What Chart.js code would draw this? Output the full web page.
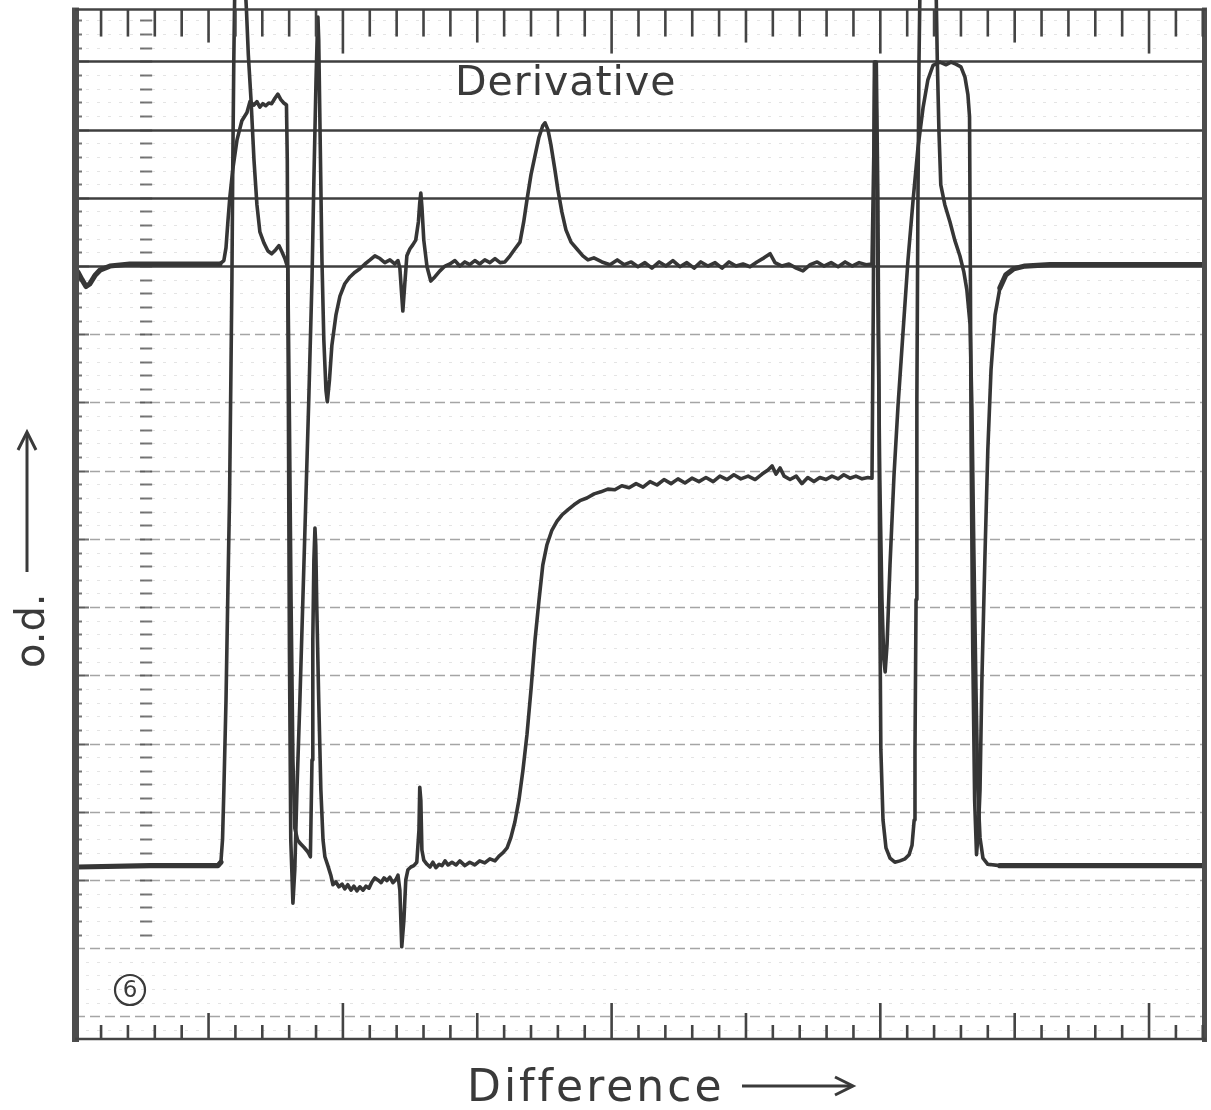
<!DOCTYPE html>
<html>
<head>
<meta charset="utf-8">
<title>Derivative / Difference</title>
<script src="https://cdn.jsdelivr.net/npm/chart.js@4.4.1/dist/chart.umd.min.js"></script>
<style>
  html, body { margin: 0; padding: 0; background: #fff; }
  #wrap { width: 1211px; height: 1110px; }
</style>
</head>
<body>
<div id="wrap"><canvas id="trace" width="1211" height="1110"></canvas></div>
<script>
// pen traces: x in chart divisions (small ticks), y in paper rows
const derivX = [
  0.14,0.29,0.44,0.58,0.77,0.96,1.33,2.07,5.42,5.57,5.65,5.72,5.79,5.90,6.06,6.24,6.43,6.54,6.69,6.80,
  6.91,7.02,7.13,7.24,7.35,7.47,7.58,7.69,7.80,7.90,7.93,7.97,8.01,8.06,8.14,8.21,8.29,8.40,8.51,8.62,
  8.73,8.85,8.92,9.00,9.05,9.07,9.10,9.16,9.22,9.29,9.37,9.42,9.50,9.59,9.74,9.89,10.07,10.26,10.45,10.63,
  10.82,11.01,11.19,11.38,11.56,11.75,11.93,12.05,12.12,12.18,12.23,12.30,12.38,12.49,12.60,12.71,12.81,12.86,12.90,12.94,
  13.01,13.13,13.27,13.42,13.61,13.80,13.98,14.17,14.35,14.54,14.72,14.91,15.09,15.28,15.47,15.66,15.85,16.03,16.22,16.40,
  16.59,16.73,16.85,17.00,17.14,17.29,17.44,17.52,17.63,17.74,17.89,18.00,18.15,18.30,18.49,18.71,18.93,19.12,19.34,
  19.64,19.94,20.21,20.47,20.73,20.98,21.24,21.50,21.77,22.02,22.28,22.54,22.80,23.07,23.32,23.58,23.85,24.11,24.37,24.63,
  24.89,25.15,25.41,25.67,25.90,26.08,26.34,26.60,26.87,27.12,27.39,27.65,27.90,28.17,28.43,28.69,28.95,29.21,29.47,29.69,
  29.76,29.80,29.85,29.91,29.98,30.06,30.13,30.18,30.25,30.36,30.51,30.66,30.85,31.03,31.22,31.40,31.59,31.77,31.96,32.22,
  32.45,32.63,32.81,33.00,33.15,33.26,33.32,33.35,33.38,33.44,33.51,33.58,33.65,33.71,33.78,33.89,34.00,34.12,34.27,34.45,
  34.67,34.97,35.38,36.31,42.12
];
const derivY = [
  8.91,8.80,8.70,8.74,8.86,8.94,9.00,9.03,9.03,9.08,9.27,9.65,10.00,10.41,10.85,11.13,11.25,11.41,11.36,11.41,
  11.33,11.38,11.35,11.39,11.38,11.46,11.52,11.44,11.39,11.36,10.56,7.04,3.37,0.59,-0.34,0.15,1.32,2.64,4.11,5.57,
  7.04,8.80,10.26,11.73,12.46,12.65,12.32,10.70,9.09,7.92,7.18,7.01,7.33,7.84,8.28,8.56,8.74,8.84,8.91,8.96,
  9.03,9.09,9.15,9.11,9.05,9.09,9.03,9.08,8.97,8.62,8.34,8.72,9.15,9.25,9.31,9.38,9.65,9.93,10.07,9.87,
  9.38,8.99,8.78,8.84,8.93,9.00,9.03,9.08,9.00,9.06,9.02,9.08,9.03,9.09,9.05,9.11,9.05,9.06,9.15,9.25,
  9.35,9.65,9.97,10.34,10.60,10.88,11.06,11.10,11.00,10.78,10.41,10.12,9.79,9.53,9.35,9.25,9.15,9.09,9.12,
  9.06,9.02,9.09,9.02,9.06,8.99,9.05,8.97,9.06,9.00,9.08,8.99,9.05,8.97,9.06,9.00,9.05,8.97,9.06,9.00,
  9.03,8.99,9.06,9.12,9.18,9.05,9.00,9.03,8.97,8.93,9.02,9.06,9.00,9.05,8.99,9.06,9.00,9.05,9.02,9.03,
  10.70,11.99,11.29,8.50,5.87,4.11,3.23,3.05,3.45,4.62,5.94,6.96,8.06,9.09,9.97,10.73,11.32,11.73,11.94,11.99,
  11.95,11.99,11.96,11.92,11.77,11.51,11.19,8.99,6.30,3.37,1.17,0.37,0.73,1.32,2.93,4.69,6.30,7.48,8.28,8.68,
  8.87,8.96,9.00,9.02,9.02
];
const diffX = [
  0.14,2.82,5.35,5.46,5.52,5.57,5.65,5.72,5.78,5.83,5.87,5.90,5.94,5.98,6.17,6.35,6.41,6.48,6.58,6.69,
  6.80,6.91,7.06,7.21,7.35,7.50,7.62,7.73,7.84,7.95,8.01,8.07,8.14,8.21,8.31,8.40,8.55,8.70,8.79,8.85,
  8.88,8.92,8.96,8.99,9.03,9.10,9.18,9.26,9.33,9.44,
  9.55,9.63,9.74,9.85,9.97,10.07,10.18,10.30,10.41,10.52,10.63,10.75,10.86,10.97,11.08,11.19,11.30,11.42,11.53,11.64,
  11.75,11.86,11.98,12.05,12.12,12.19,12.27,12.34,12.42,12.53,12.64,12.75,12.83,12.86,12.90,12.94,13.01,13.13,13.24,13.35,
  13.46,13.58,13.69,13.80,13.91,14.06,14.21,14.35,
  14.54,14.72,14.91,15.09,15.28,15.47,15.66,15.81,15.96,16.11,16.25,16.40,16.55,16.70,16.85,17.00,17.15,17.30,17.44,17.59,
  17.78,17.97,18.15,18.38,18.60,18.82,19.08,19.35,19.60,
  19.86,20.12,20.38,20.65,20.91,21.17,21.43,21.69,21.95,22.21,22.47,22.73,22.99,23.25,23.51,23.78,24.03,24.30,24.55,24.81,
  25.08,25.34,25.60,25.82,25.97,26.12,26.27,26.42,26.64,26.87,27.08,27.30,27.53,27.75,27.98,28.20,28.43,28.64,28.87,29.09,
  29.32,29.54,29.69,
  29.74,29.78,29.85,29.91,29.95,29.98,30.02,30.10,30.21,30.36,30.54,30.73,30.92,31.07,31.18,31.26,31.29,31.33,31.36,31.40,
  31.44,31.48,31.77,32.07,32.12,32.18,32.25,32.40,32.59,32.77,32.96,33.11,33.22,33.34,33.41,33.48,33.56,33.63,33.71,33.82,
  34.00,34.45,42.12
];
const diffY = [
  0.19,0.21,0.21,0.26,0.59,1.32,2.64,4.25,5.57,7.33,8.80,10.41,12.02,13.20,13.93,13.20,12.76,12.10,11.44,10.56,
  9.90,9.50,9.34,9.22,9.18,9.24,9.30,9.21,9.11,8.97,6.74,4.11,1.76,0.76,0.59,0.54,0.48,0.41,0.34,1.76,
  3.52,4.69,5.16,4.91,3.96,2.64,1.32,0.59,0.34,0.21,
  0.07,-0.07,-0.03,-0.10,-0.06,-0.13,-0.07,-0.15,-0.09,-0.16,-0.10,-0.15,-0.09,-0.12,-0.03,0.03,0.00,-0.04,0.03,-0.01,
  0.04,-0.04,0.01,0.07,-0.15,-0.98,-0.59,0.00,0.15,0.19,0.21,0.26,0.73,1.36,1.17,0.44,0.29,0.23,0.19,0.26,
  0.18,0.23,0.21,0.28,0.22,0.26,0.22,0.28,
  0.21,0.26,0.22,0.28,0.25,0.31,0.28,0.35,0.40,0.47,0.62,0.85,1.17,1.61,2.13,2.79,3.52,4.11,4.62,4.91,
  5.13,5.26,5.35,5.43,5.50,5.56,5.60,5.66,5.69,
  5.73,5.72,5.78,5.75,5.81,5.76,5.84,5.79,5.87,5.81,5.88,5.82,5.89,5.84,5.90,5.84,5.92,5.87,5.94,5.88,
  5.92,5.87,5.95,6.01,6.07,5.95,6.04,5.92,5.87,5.92,5.81,5.90,5.84,5.90,5.87,5.92,5.88,5.94,5.89,5.92,
  5.88,5.90,5.89,
  8.50,11.99,11.99,9.97,7.04,4.11,1.91,0.88,0.47,0.32,0.26,0.28,0.31,0.37,0.51,0.88,1.91,4.11,7.04,9.97,
  12.02,13.20,13.93,13.20,12.02,11.00,10.19,9.90,9.65,9.38,9.15,8.91,8.65,8.14,6.89,4.84,2.79,1.32,0.62,0.32,
  0.23,0.21,0.21
];

// chart paper ruling
const gridRows = [-2,-1,0,1,2,3,4,5,6,7,8,9,10,11,12];
const heavyRows = [9,10,11,12];
const tickCount = 42;
const longTicks = [10,20,30,40];
const midTicks = [5,15,25,35];

const xMin = 0.03, xMax = 42.12;
const yMin = -2.346, yMax = 12.9;
const frameTop = 12.76;
const ink = '#363636';

function toPoints(xs, ys) {
  return xs.map((v, i) => ({ x: v, y: ys[i] }));
}

// flat baselines at either end were drawn with a heavier pen
function penWidth(c) {
  const a = c.p0.parsed.x, b = c.p1.parsed.x;
  if (b <= 5.5 || a >= 34.4) return 5.2;
  return 3.6;
}

function seg(ctx, x1, y1, x2, y2) {
  ctx.beginPath();
  ctx.moveTo(x1, y1);
  ctx.lineTo(x2, y2);
  ctx.stroke();
}

const paper = {
  id: 'paper',
  beforeDatasetsDraw(chart) {
    const { ctx, scales: { x, y } } = chart;
    const L = x.getPixelForValue(xMin), R = x.getPixelForValue(xMax);
    const T = y.getPixelForValue(frameTop), B = y.getPixelForValue(yMin);
    ctx.save();

    // faint fifth-division rows
    ctx.strokeStyle = 'rgba(120,120,120,0.20)';
    ctx.lineWidth = 1;
    ctx.setLineDash([3, 8]);
    for (let r = gridRows[0] - 1; r <= gridRows[gridRows.length - 1]; r++) {
      for (let k = 1; k < 5; k++) {
        const py = Math.round(y.getPixelForValue(r + k / 5)) + 0.5;
        if (py <= T + 2 || py >= B - 2) continue;
        seg(ctx, L, py, R, py);
      }
    }

    // division rows
    gridRows.forEach(r => {
      const py = Math.round(y.getPixelForValue(r)) + 0.5;
      if (heavyRows.includes(r)) {
        ctx.strokeStyle = '#3f3f3f';
        ctx.lineWidth = 2.6;
        ctx.setLineDash([]);
      } else {
        ctx.strokeStyle = 'rgba(75,75,75,0.5)';
        ctx.lineWidth = 1.4;
        ctx.setLineDash([10, 5]);
      }
      seg(ctx, L, py, R, py);
    });

    // short ruler dashes near the left edge
    ctx.setLineDash([]);
    ctx.strokeStyle = 'rgba(60,60,60,0.7)';
    ctx.lineWidth = 2;
    const rx1 = x.getPixelForValue(2.45), rx2 = x.getPixelForValue(2.9);
    for (let r = gridRows[0]; r <= gridRows[gridRows.length - 1]; r++) {
      for (let k = 0; k < 5; k++) {
        const py = Math.round(y.getPixelForValue(r + k / 5)) + 0.5;
        if (py <= T + 2 || py >= B - 100) continue;
        seg(ctx, rx1, py, rx2, py);
        seg(ctx, L, py, L + (k === 0 ? 14 : 7), py);
      }
    }
    ctx.restore();
  },
  afterDatasetsDraw(chart) {
    const { ctx, scales: { x, y } } = chart;
    const L = x.getPixelForValue(xMin), R = x.getPixelForValue(xMax);
    const T = y.getPixelForValue(frameTop), B = y.getPixelForValue(yMin);
    ctx.save();
    ctx.setLineDash([]);

    // frame
    ctx.fillStyle = '#4d4d4d';
    ctx.fillRect(L - 3, T - 2, 7, B - T + 4);
    ctx.fillRect(R - 4, T - 2, 5, B - T + 4);
    ctx.strokeStyle = '#444';
    ctx.lineWidth = 2.6;
    seg(ctx, L, T, R, T);
    seg(ctx, L, B - 1, R, B - 1);

    // time ticks along top and bottom edges
    ctx.lineWidth = 2.6;
    for (let i = 1; i <= tickCount; i++) {
      const px = x.getPixelForValue(i);
      const isLong = longTicks.includes(i), isMid = midTicks.includes(i);
      seg(ctx, px, T, px, T + (isLong ? 44 : isMid ? 33 : 27));
      seg(ctx, px, B, px, B - (isLong ? 37 : isMid ? 27 : 15));
    }

    // lettering
    ctx.fillStyle = '#3a3a3a';
    ctx.strokeStyle = '#3a3a3a';
    ctx.textBaseline = 'alphabetic';
    ctx.textAlign = 'left';
    ctx.font = '41px "DejaVu Sans"';
    ctx.letterSpacing = '1px';
    ctx.fillText('Derivative', 455, 95);

    ctx.font = '44px "DejaVu Sans"';
    ctx.letterSpacing = '3px';
    ctx.fillText('Difference', 467, 1101);
    ctx.lineWidth = 3;
    seg(ctx, 742, 1086, 852, 1086);
    ctx.beginPath();
    ctx.moveTo(835, 1077);
    ctx.lineTo(853, 1086);
    ctx.lineTo(835, 1095);
    ctx.stroke();

    ctx.save();
    ctx.translate(44, 668);
    ctx.rotate(-Math.PI / 2);
    ctx.font = '40px "DejaVu Sans"';
    ctx.letterSpacing = '0px';
    ctx.fillText('o.d.', 0, 0);
    seg(ctx, 96, -17, 235, -17);
    ctx.beginPath();
    ctx.moveTo(218, -26);
    ctx.lineTo(236, -17);
    ctx.lineTo(218, -8);
    ctx.stroke();
    ctx.restore();

    // circled plate number
    ctx.letterSpacing = '0px';
    ctx.lineWidth = 2.2;
    ctx.beginPath();
    ctx.arc(130, 990, 15, 0, Math.PI * 2);
    ctx.stroke();
    ctx.font = '23px "DejaVu Sans"';
    ctx.textAlign = 'center';
    ctx.textBaseline = 'middle';
    ctx.fillText('6', 130, 991);
    ctx.restore();
  }
};

const trace = {
  borderColor: ink,
  borderWidth: 3.6,
  pointRadius: 0,
  tension: 0,
  borderJoinStyle: 'round',
  borderCapStyle: 'round',
  segment: { borderWidth: penWidth }
};

new Chart(document.getElementById('trace'), {
  type: 'line',
  data: {
    datasets: [
      Object.assign({ label: 'Difference', data: toPoints(diffX, diffY) }, trace),
      Object.assign({ label: 'Derivative', data: toPoints(derivX, derivY) }, trace)
    ]
  },
  options: {
    responsive: false,
    animation: false,
    devicePixelRatio: 1,
    events: [],
    layout: { padding: { left: 75, right: 5, top: 0, bottom: 70 } },
    scales: {
      x: { type: 'linear', min: xMin, max: xMax, display: false },
      y: { type: 'linear', min: yMin, max: yMax, display: false }
    },
    plugins: {
      legend: { display: false },
      tooltip: { enabled: false }
    }
  },
  plugins: [paper]
});
</script>
</body>
</html>
